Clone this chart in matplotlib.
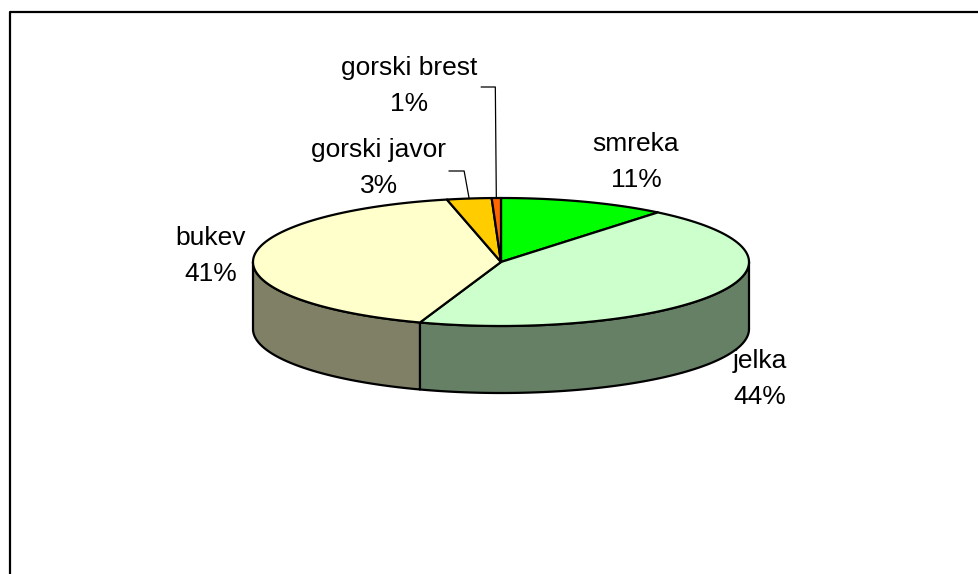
import matplotlib
matplotlib.use("Agg")
import matplotlib.pyplot as plt
from matplotlib.patches import Polygon
import numpy as np

plt.rcParams['font.family'] = ['Liberation Sans', 'DejaVu Sans']

# tree species share
species = ['smreka', 'jelka', 'bukev', 'gorski javor', 'gorski brest']
shares = [10.9, 44.4, 41.2, 2.9, 0.6]
top_colors = ['#00FF00', '#CCFFCC', '#FFFFCC', '#FFCC00', '#FF6600']

# label placement (pixel coords, y down)
label_pos = [(636, 162), (760, 379), (211, 256), (379, 168), (409, 86)]

W, H = 979, 574
fig = plt.figure(figsize=(W / 100, H / 100), dpi=100)
ax = fig.add_axes([0, 0, 1, 1])
ax.set_xlim(0, W)
ax.set_ylim(H, 0)
ax.axis('off')

# chart frame
ax.plot([10, 10, W + 5], [H + 5, 12, 12], color='black', lw=1.6, solid_capstyle='butt')

cx, cy = 501, 262
rx, ry = 248, 64
depth = 67
lw = 1.6


def ellipse_pt(theta_deg, dy=0):
    t = np.radians(theta_deg)
    return cx + rx * np.sin(t), cy - ry * np.cos(t) + dy


def shade(hexcol, f=0.5):
    rgb = np.array(matplotlib.colors.to_rgb(hexcol))
    return tuple(rgb * f)


vals = np.array(shares)
bounds = np.concatenate([[0], np.cumsum(vals) / vals.sum() * 360])

# side walls for the front half of the pie
for i in range(len(vals)):
    a0, a1 = max(bounds[i], 90), min(bounds[i + 1], 270)
    if a1 <= a0:
        continue
    th = np.linspace(a0, a1, 200)
    xs, ys = ellipse_pt(th)
    xb, yb = ellipse_pt(th[::-1], depth)
    pts = np.column_stack([np.concatenate([xs, xb]), np.concatenate([ys, yb])])
    ax.add_patch(Polygon(pts, closed=True, facecolor=shade(top_colors[i]),
                         edgecolor='black', lw=lw, joinstyle='round'))

# top face wedges
for i in range(len(vals)):
    th = np.linspace(bounds[i], bounds[i + 1], 300)
    xs, ys = ellipse_pt(th)
    pts = np.column_stack([np.concatenate([[cx], xs]), np.concatenate([[cy], ys])])
    ax.add_patch(Polygon(pts, closed=True, facecolor=top_colors[i],
                         edgecolor='black', lw=lw, joinstyle='round'))

# labels
for i, name in enumerate(species):
    lx, ly = label_pos[i]
    ax.text(lx, ly, f"{name}\n{round(vals[i] / vals.sum() * 100):.0f}%",
            ha='center', va='center', fontsize=19, linespacing=1.6, color='black')

# leader lines for the two small slices
leaders = {3: (171, -5, 15), 4: (87, -1, 14)}
for i, (ey, dx, run) in leaders.items():
    mid = (bounds[i] + bounds[i + 1]) / 2
    px, py = ellipse_pt(mid)
    ex = px + dx
    ax.plot([px, ex, ex - run], [py, ey, ey], color='black', lw=0.9)

fig.savefig('out.png', dpi=100)
